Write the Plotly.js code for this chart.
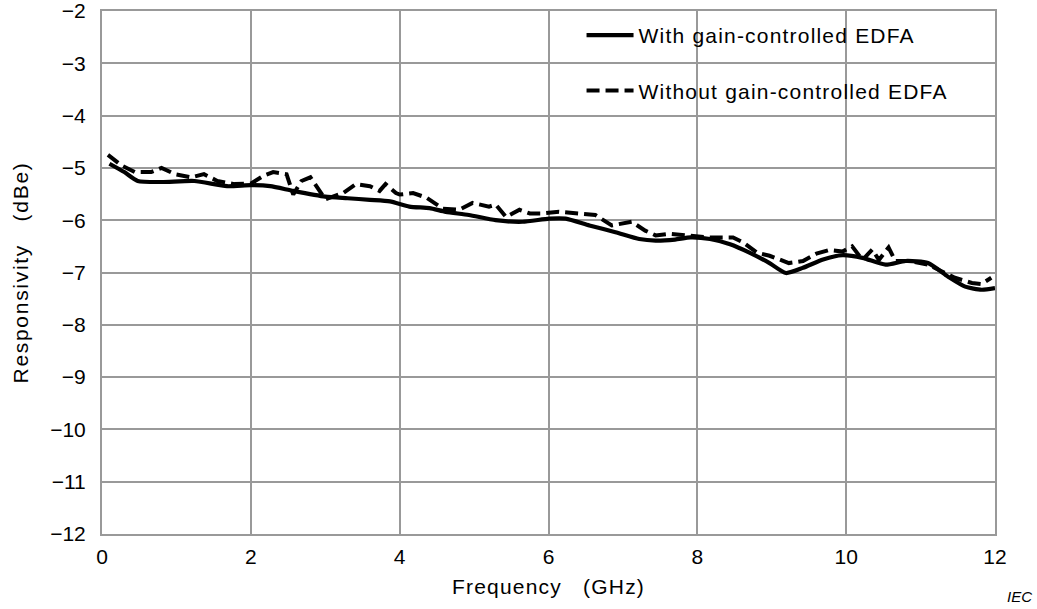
<!DOCTYPE html>
<html>
<head>
<meta charset="utf-8">
<script src="https://cdn.plot.ly/plotly-3.0.1.min.js"></script>
<style>
html,body{margin:0;padding:0;background:#fff;}
#chart{width:1037px;height:609px;}
#chart .legendtext{letter-spacing:1.2px;}
#chart .xtitle{letter-spacing:1.2px;}
#chart .ytitle{letter-spacing:1.7px;}
#chart .legend, #chart .legend .scrollbox, #chart .legend g{clip-path:none !important;}
</style>
</head>
<body>
<div id="chart"></div>
<script>
// Solid: with gain-controlled EDFA
const freqWith = [0.1, 0.3, 0.48, 0.8, 1.24, 1.68, 2.0, 2.26, 2.57, 3.0, 3.3, 3.6, 3.87, 4.13, 4.4, 4.62, 4.93, 5.29, 5.65, 6.01, 6.23, 6.55, 6.9, 7.22, 7.44, 7.7, 7.91, 8.17, 8.44, 8.7, 8.97, 9.19, 9.42, 9.69, 9.95, 10.22, 10.53, 10.8, 11.1, 11.37, 11.6, 11.82, 12.0];
const respWith = [-4.92, -5.08, -5.25, -5.27, -5.25, -5.35, -5.33, -5.35, -5.44, -5.55, -5.58, -5.61, -5.64, -5.74, -5.77, -5.84, -5.9, -6.0, -6.03, -5.97, -5.97, -6.1, -6.23, -6.36, -6.39, -6.37, -6.33, -6.36, -6.46, -6.62, -6.82, -7.01, -6.91, -6.75, -6.67, -6.72, -6.85, -6.78, -6.82, -7.08, -7.27, -7.33, -7.3];
// Dashed: without gain-controlled EDFA
const freqWithout = [0.08, 0.26, 0.44, 0.66, 0.8, 0.98, 1.2, 1.37, 1.55, 1.78, 2.0, 2.17, 2.3, 2.48, 2.57, 2.68, 2.8, 3.0, 3.24, 3.41, 3.6, 3.73, 3.81, 3.95, 4.0, 4.18, 4.36, 4.58, 4.8, 4.98, 5.2, 5.29, 5.43, 5.61, 5.75, 5.92, 6.14, 6.36, 6.63, 6.85, 7.12, 7.3, 7.44, 7.62, 7.89, 8.17, 8.48, 8.61, 8.8, 8.97, 9.23, 9.42, 9.6, 9.77, 9.95, 10.08, 10.22, 10.35, 10.44, 10.57, 10.66, 10.84, 11.1, 11.28, 11.46, 11.69, 11.82, 11.95];
const respWithout = [-4.75, -4.95, -5.08, -5.08, -5.0, -5.12, -5.18, -5.12, -5.25, -5.31, -5.3, -5.15, -5.08, -5.12, -5.51, -5.25, -5.18, -5.6, -5.48, -5.31, -5.35, -5.44, -5.31, -5.48, -5.51, -5.48, -5.57, -5.78, -5.8, -5.67, -5.74, -5.7, -5.94, -5.8, -5.87, -5.87, -5.84, -5.87, -5.9, -6.1, -6.03, -6.2, -6.29, -6.26, -6.29, -6.33, -6.33, -6.42, -6.62, -6.68, -6.82, -6.78, -6.64, -6.57, -6.6, -6.5, -6.76, -6.56, -6.76, -6.52, -6.78, -6.78, -6.85, -6.98, -7.1, -7.2, -7.22, -7.1];

const xTicks = [0, 2, 4, 6, 8, 10, 12];
const yTicks = [-2, -3, -4, -5, -6, -7, -8, -9, -10, -11, -12];

const FONT = 'Liberation Sans, Arial, sans-serif';

const traces = [
  {x: freqWith, y: respWith, type: 'scatter', mode: 'lines', name: 'With gain-controlled EDFA',
   line: {color: '#000', width: 4.2, shape: 'spline', smoothing: 0.6}, legendgroup: 'a'},
  {x: freqWithout, y: respWithout, type: 'scatter', mode: 'lines', name: 'Without gain-controlled EDFA',
   line: {color: '#000', width: 4, dash: '13px,6px'}, legendgroup: 'b'}
];

const axisCommon = {
  showline: true, mirror: true, linecolor: '#999', linewidth: 2,
  showgrid: true, gridcolor: '#999', gridwidth: 2,
  zeroline: false, ticks: '', ticklabeloverflow: 'allow',
  tickfont: {family: FONT, size: 21, color: '#000'}
};

const layout = {
  width: 1037, height: 609,
  margin: {l: 102, r: 42, t: 11, b: 75},
  paper_bgcolor: '#fff', plot_bgcolor: '#fff',
  font: {family: FONT, size: 21, color: '#000'},
  showlegend: true,
  legend: {x: 0.537, y: 0.9923, xanchor: 'left', yanchor: 'top', bgcolor: 'rgba(255,255,255,0)',
    font: {size: 21, color: '#000'}, tracegroupgap: 25, traceorder: 'grouped', itemwidth: 47},
  xaxis: Object.assign({}, axisCommon, {
    range: [0, 12], tickvals: xTicks, ticklabelstandoff: 3,
    title: {text: 'Frequency   (GHz)', font: {size: 21}, standoff: 12}
  }),
  yaxis: Object.assign({}, axisCommon, {
    range: [-12, -2], tickvals: yTicks, ticklabelstandoff: 10,
    title: {text: 'Responsivity   (dBe)', font: {size: 21}, standoff: 16}
  }),
  annotations: [{
    text: 'IEC', xref: 'paper', yref: 'paper', x: 1.0437, y: -0.12, xanchor: 'right', yanchor: 'middle',
    showarrow: false, font: {size: 15, color: '#000', style: 'italic'}
  }]
};

Plotly.newPlot('chart', traces, layout, {displayModeBar: false, staticPlot: true});
</script>
</body>
</html>
